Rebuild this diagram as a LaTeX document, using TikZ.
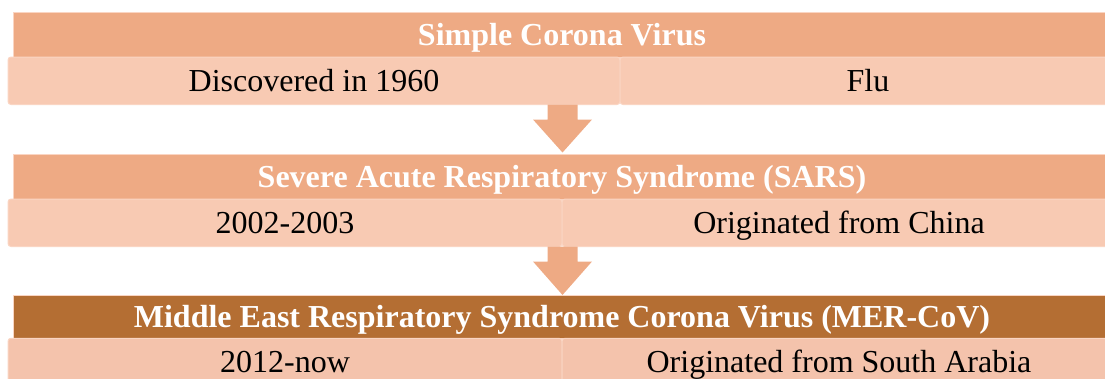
\documentclass[tikz,border=0pt]{standalone}
\usepackage{fontspec}
\setmainfont{Liberation Serif}
\usetikzlibrary{calc}
\definecolor{hdrc}{HTML}{EEAA84}
\definecolor{hdrdark}{HTML}{B46E33}
\definecolor{subc}{HTML}{F8CAB3}
\definecolor{subd}{HTML}{F4C3AC}
\definecolor{edgec}{HTML}{FAD5C3}
\tikzset{
  hdr/.style={rectangle, fill=hdrc, draw=edgec, line width=0.6pt, inner sep=0pt,
    text height=21.5pt, text depth=0pt,
    text=white, font=\fontsize{32}{36}\selectfont\bfseries},
  subcell/.style={rectangle, rounded corners=3pt, fill=subc, draw=edgec, line width=1pt,
    inner sep=0pt, text height=21.5pt, text depth=0pt,
    text=black, font=\fontsize{32}{36}\selectfont},
  blockarrow/.style={fill=hdrc, draw=none}
}
\begin{document}
\begin{tikzpicture}[x=1pt,y=-1pt]
\useasboundingbox (0,0) rectangle (1105,378);
\clip (0,0) rectangle (1105,378);
% row 1
\node[hdr, minimum width=1098pt, minimum height=45pt] (h1) at (562,34.5) {Simple Corona Virus};
\node[subcell, minimum width=612pt, minimum height=47.5pt] (a1) at (314,80.75) {Discovered in 1960};
\node[subcell, minimum width=496pt, minimum height=47.5pt] (b1) at (868,80.75) {Flu};
% row 2
\node[hdr, minimum width=1098pt, minimum height=45pt] (h2) at (562,176.5) {Severe Acute Respiratory Syndrome (SARS)};
\node[subcell, minimum width=554pt, minimum height=47.5pt] (a2) at (285,222.75) {2002-2003};
\node[subcell, minimum width=554pt, minimum height=47.5pt] (b2) at (839,222.75) {Originated from China};
% row 3
\node[hdr, fill=hdrdark, minimum width=1098pt, minimum height=42.5pt] (h3) at (562,317) {Middle East Respiratory Syndrome Corona Virus (MER-CoV)};
\node[subcell, fill=subd, minimum width=554pt, minimum height=47.5pt] (a3) at (285,362) {2012-now};
\node[subcell, fill=subd, minimum width=554pt, minimum height=47.5pt] (b3) at (839,362) {Originated from South Arabia};
% arrows
\coordinate (t1) at (562.5,104.5);
\coordinate (p1) at (562.5,152.5);
\fill[blockarrow] ($(t1)+(-15,0)$) -- ($(t1)+(15,0)$) -- ($(t1)+(15,15)$) -- ($(t1)+(29.5,15)$) -- (p1) -- ($(t1)+(-29.5,15)$) -- ($(t1)+(-15,15)$) -- cycle;
\coordinate (t2) at (562.5,246.5);
\coordinate (p2) at (562.5,295);
\fill[blockarrow] ($(t2)+(-15,0)$) -- ($(t2)+(15,0)$) -- ($(t2)+(15,15)$) -- ($(t2)+(29.5,15)$) -- (p2) -- ($(t2)+(-29.5,15)$) -- ($(t2)+(-15,15)$) -- cycle;
\end{tikzpicture}
\end{document}
